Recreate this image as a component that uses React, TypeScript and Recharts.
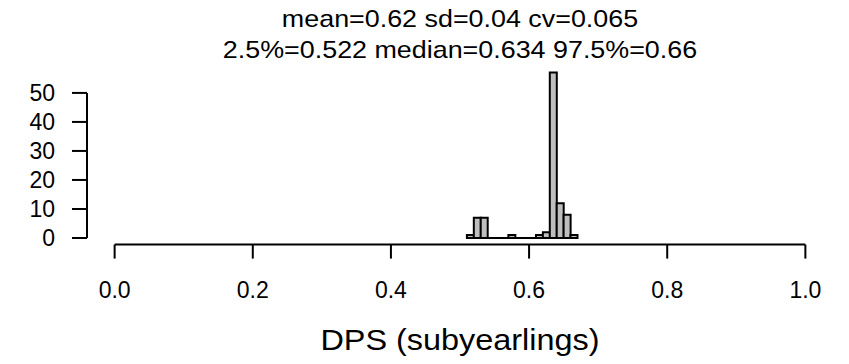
import { BarChart, Bar, XAxis, YAxis, ReferenceLine } from 'recharts';

// histogram bins (width 0.01), mid points and counts
const binMids = [0.515, 0.525, 0.535, 0.545, 0.555, 0.565, 0.575, 0.585, 0.595, 0.605, 0.615, 0.625, 0.635, 0.645, 0.655, 0.665];
const binCounts = [1, 7, 7, 0, 0, 0, 1, 0, 0, 0, 1, 2, 57, 12, 8, 1];
const histRange = [0.51, 0.67];

const xTicks = [0, 0.2, 0.4, 0.6, 0.8, 1];
const yTicks = [0, 10, 20, 30, 40, 50];
const xDomain: [number, number] = [-0.04, 1.04];
const yDomain: [number, number] = [-2.28, 59.28];

const titleLines = ['mean=0.62 sd=0.04 cv=0.065', '2.5%=0.522 median=0.634 97.5%=0.66'];
const xLabel = 'DPS (subyearlings)';

const font = '"Liberation Sans", Arial, sans-serif';

export default function App() {
  const data = binMids.map((mid, i) => ({ mid, count: binCounts[i] }));

  return (
    <div style={{ position: 'absolute', left: 0, top: 0, width: 849, height: 364, background: '#fff' }}>
      <BarChart
        width={849}
        height={364}
        data={data}
        margin={{ top: 66, right: 16, bottom: 59.4, left: 0 }}
        barCategoryGap={0}
        barGap={0}
      >
        <XAxis
          type="number"
          dataKey="mid"
          domain={xDomain}
          allowDataOverflow
          ticks={xTicks}
          interval={0}
          tickFormatter={(v: number) => v.toFixed(1)}
          height={60}
          axisLine={false}
          tickLine={{ stroke: '#000', strokeWidth: 2 }}
          tickSize={14}
          tickMargin={23}
          tick={{ fill: '#000', fontSize: 23, fontFamily: font }}
        />
        <YAxis
          type="number"
          domain={yDomain}
          allowDataOverflow
          ticks={yTicks}
          interval={0}
          width={87}
          axisLine={false}
          tickLine={{ stroke: '#000', strokeWidth: 2 }}
          tickSize={15}
          tickMargin={17}
          tick={{ fill: '#000', fontSize: 23, fontFamily: font }}
        />
        <Bar dataKey="count" fill="#bebebe" stroke="#000" strokeWidth={2} isAnimationActive={false} />
        <ReferenceLine
          segment={[{ x: histRange[0], y: 0 }, { x: histRange[1], y: 0 }]}
          stroke="#000"
          strokeWidth={2}
        />
        <ReferenceLine
          segment={[{ x: xTicks[0], y: yDomain[0] }, { x: xTicks[xTicks.length - 1], y: yDomain[0] }]}
          stroke="#000"
          strokeWidth={2}
        />
        <ReferenceLine
          segment={[{ x: xDomain[0], y: yTicks[0] }, { x: xDomain[0], y: yTicks[yTicks.length - 1] }]}
          stroke="#000"
          strokeWidth={2}
        />
      </BarChart>
      <svg width={849} height={364} style={{ position: 'absolute', left: 0, top: 0, pointerEvents: 'none' }}>
        <g fontFamily={font} fill="#000" textAnchor="middle">
          <text transform="translate(460,27) scale(1.12,1)" fontSize={24}>{titleLines[0]}</text>
          <text transform="translate(460,58) scale(1.12,1)" fontSize={24}>{titleLines[1]}</text>
          <text transform="translate(460,350) scale(1.08,1)" fontSize={30}>{xLabel}</text>
        </g>
      </svg>
    </div>
  );
}
